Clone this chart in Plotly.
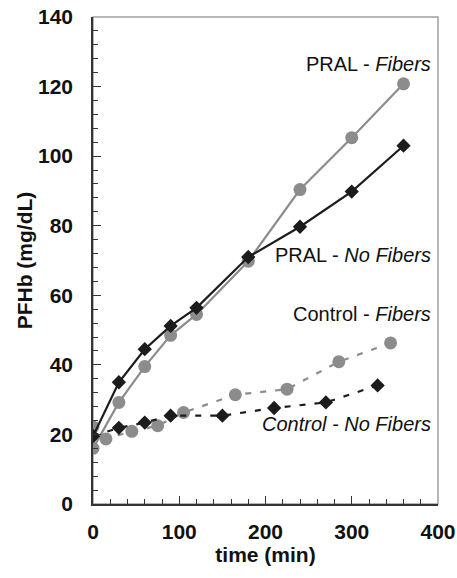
import plotly.graph_objects as go

# Data
pral_fib_t = [0, 30, 60, 90, 120, 180, 240, 300, 360]
pral_fib_v = [16, 29.2, 39.5, 48.5, 54.5, 69.8, 90.4, 105.3, 120.8]

pral_nofib_t = [0, 30, 60, 90, 120, 180, 240, 300, 360]
pral_nofib_v = [19.5, 35.0, 44.5, 51.2, 56.4, 71.0, 79.7, 89.8, 103.0]

ctrl_fib_t = [0, 15, 45, 75, 105, 165, 225, 285, 345]
ctrl_fib_v = [22.2, 18.7, 20.9, 22.5, 26.3, 31.4, 33.0, 40.9, 46.3]

ctrl_nofib_t = [0, 30, 60, 90, 150, 210, 270, 330]
ctrl_nofib_v = [19.5, 21.9, 23.4, 25.4, 25.4, 27.6, 29.2, 34.1]

labels = ["PRAL - <i>Fibers</i>", "PRAL - <i>No Fibers</i>",
          "Control - <i>Fibers</i>", "<i>Control - No Fibers</i>"]
label_y = [126.5, 71.6, 54.6, 23.0]
label_x = 394

GRAY = "#8c8c8c"
BLACK = "#1c1c1c"

fig = go.Figure()
fig.add_trace(go.Scatter(x=ctrl_fib_t, y=ctrl_fib_v, mode="lines+markers",
                         line=dict(color=GRAY, width=2.2, dash="6px,9px"),
                         marker=dict(symbol="circle", size=13, color=GRAY)))
fig.add_trace(go.Scatter(x=ctrl_nofib_t, y=ctrl_nofib_v, mode="lines+markers",
                         line=dict(color=BLACK, width=2.2, dash="6px,9px"),
                         marker=dict(symbol="diamond", size=11, color=BLACK)))
fig.add_trace(go.Scatter(x=pral_fib_t, y=pral_fib_v, mode="lines+markers",
                         line=dict(color=GRAY, width=2.2),
                         marker=dict(symbol="circle", size=13, color=GRAY)))
fig.add_trace(go.Scatter(x=pral_nofib_t, y=pral_nofib_v, mode="lines+markers",
                         line=dict(color=BLACK, width=2.2),
                         marker=dict(symbol="diamond", size=11, color=BLACK)))

for txt, yv in zip(labels, label_y):
    fig.add_annotation(x=label_x, y=yv, text=txt, showarrow=False,
                       xanchor="right", yanchor="middle",
                       font=dict(family="Liberation Sans, Arial", size=20, color="#111111"))

# light frame on top/right
fig.add_shape(type="rect", xref="paper", yref="paper", x0=0, y0=0, x1=1, y1=1,
              line=dict(color="#a0a0a0", width=1.5), layer="below")

fig.update_layout(
    width=457, height=578,
    margin=dict(l=93, r=19, t=17, b=74),
    paper_bgcolor="white", plot_bgcolor="white",
    showlegend=False,
    font=dict(family="Liberation Sans, Arial", color="#111111"),
    xaxis=dict(range=[0, 400], tickvals=[0, 100, 200, 300, 400], automargin=False,
               ticks="inside", ticklen=8, tickwidth=1.2, tickcolor="#333",
               minor=dict(dtick=20, ticks="inside", ticklen=5, tickcolor="#333", tickwidth=1.2),
               showline=True, linecolor="#333", linewidth=1.5,
               showgrid=False, zeroline=False,
               tickfont=dict(family="Liberation Sans", size=21, color="#111", weight="bold"),
               ticklabelstandoff=8,
               title=dict(text="<b>time (min)</b>", font=dict(family="Liberation Sans", size=21, color="#111"),
                          standoff=2)),
    yaxis=dict(range=[0, 140], tickvals=[0, 20, 40, 60, 80, 100, 120, 140], automargin=False,
               ticks="inside", ticklen=8, tickwidth=1.2, tickcolor="#333",
               minor=dict(dtick=4, ticks="inside", ticklen=5, tickcolor="#333", tickwidth=1.2),
               showline=True, linecolor="#333", linewidth=1.5,
               showgrid=False, zeroline=False,
               tickfont=dict(family="Liberation Sans", size=21, color="#111", weight="bold"),
               ticklabelstandoff=14,
               title=dict(text="<b>PFHb (mg/dL)</b>", font=dict(family="Liberation Sans", size=21, color="#111"),
                          standoff=0)),
)

fig.write_html("out.html")
